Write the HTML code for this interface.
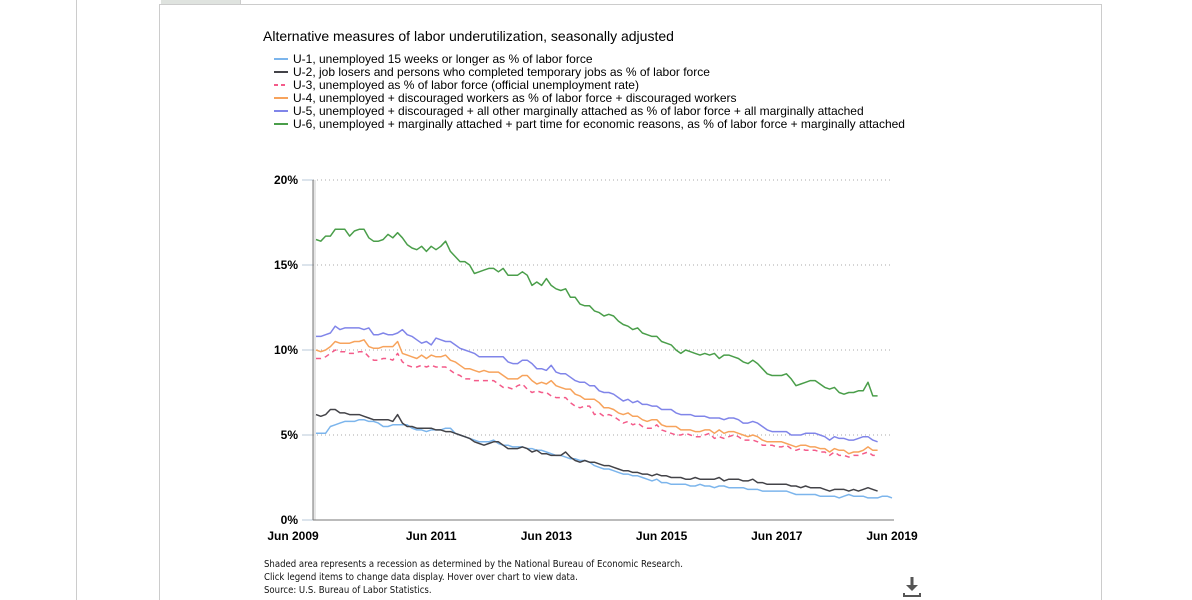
<!DOCTYPE html>
<html style="margin:0;width:1192px;height:600px;overflow:hidden"><head><meta charset="utf-8"><style>
body{margin:0;width:1192px;height:600px;background:#fff;overflow:hidden;position:relative;font-family:"Liberation Sans",Arial,sans-serif}
.abs{position:absolute}
</style></head><body>
<div class="abs" style="left:76px;top:0;width:1px;height:600px;background:#ccc"></div>
<div class="abs" style="left:159px;top:4px;width:943px;height:596px;border-left:1px solid #ccc;border-right:1px solid #ccc;border-top:1px solid #ccc;box-sizing:border-box"></div>
<div class="abs" style="left:161px;top:0;width:79px;height:4px;background:#dfe3df;border-right:1px solid #ccc"></div>
<svg class="abs" style="left:0;top:0" width="1192" height="600">
<g id="g"></g>
</svg>
<script>
const seriesNames=["U-1, unemployed 15 weeks or longer as % of labor force","U-2, job losers and persons who completed temporary jobs as % of labor force","U-3, unemployed as % of labor force (official unemployment rate)","U-4, unemployed + discouraged workers as % of labor force + discouraged workers","U-5, unemployed + discouraged + all other marginally attached as % of labor force + all marginally attached","U-6, unemployed + marginally attached + part time for economic reasons, as % of labor force + marginally attached"];
const seriesColors=["#7cb5ec","#434348","#f45b8a","#f7a35c","#8085e9","#4a9e4a"];
const u1=[5.1,5.1,5.1,5.5,5.6,5.7,5.8, 5.8,5.8,5.9,5.9,5.8,5.8,5.7,5.5,5.5,5.6,5.6,5.6, 5.6,5.4,5.3,5.3,5.2,5.3,5.3,5.3,5.4,5.4,5.1,5.0, 4.9,4.8,4.7,4.6,4.6,4.6,4.7,4.5,4.4,4.4,4.3,4.3, 4.3,4.2,4.2,4.1,4.1,4.0,3.9,3.8,3.8,3.7,3.6,3.6, 3.5,3.5,3.4,3.2,3.1,3.0,3.0,2.9,2.8,2.7,2.7,2.6, 2.6,2.5,2.4,2.3,2.4,2.2,2.2,2.1,2.1,2.1,2.1,2.0, 2.0,2.1,2.0,2.0,1.9,2.0,2.0,1.9,1.9,1.9,1.9,1.8, 1.8,1.8,1.7,1.7,1.7,1.7,1.7,1.7,1.6,1.5,1.5,1.5, 1.5,1.5,1.4,1.4,1.4,1.4,1.3,1.4,1.5,1.4,1.4,1.4, 1.3,1.3,1.3,1.4,1.4,1.3];
const u2=[6.2,6.1,6.2,6.5,6.5,6.3,6.3, 6.2,6.2,6.2,6.1,6.0,5.9,5.9,5.9,5.9,5.8,6.2,5.7, 5.5,5.5,5.4,5.4,5.4,5.4,5.3,5.3,5.2,5.2,5.1,5.0, 4.9,4.8,4.6,4.5,4.4,4.5,4.6,4.6,4.4,4.2,4.2,4.2, 4.3,4.2,4.0,4.1,3.9,3.9,3.8,3.8,3.8,4.0,3.7,3.5, 3.4,3.5,3.4,3.4,3.3,3.2,3.2,3.1,3.0,2.9,2.9,2.8, 2.8,2.7,2.7,2.6,2.7,2.6,2.6,2.5,2.5,2.5,2.4,2.4, 2.5,2.4,2.4,2.4,2.4,2.5,2.3,2.4,2.4,2.4,2.3,2.3, 2.4,2.2,2.2,2.1,2.1,2.1,2.1,2.1,2.0,2.0,1.9,2.0, 1.9,1.9,1.9,1.8,1.7,1.8,1.8,1.8,1.7,1.8,1.7,1.8, 1.9,1.8,1.7];
const u3=[9.5,9.5,9.6,9.8,10.0,9.9,9.9, 9.8,9.8,9.9,9.9,9.6,9.4,9.4,9.5,9.5,9.4,9.8,9.3, 9.1,9.0,9.0,9.1,9.0,9.1,9.0,9.0,9.0,8.8,8.6,8.5, 8.3,8.3,8.2,8.2,8.2,8.2,8.2,8.0,7.8,7.8,7.7,7.9, 8.0,7.7,7.5,7.6,7.5,7.5,7.3,7.2,7.2,7.2,6.9,6.7, 6.6,6.7,6.7,6.2,6.3,6.1,6.2,6.1,5.9,5.7,5.8,5.6, 5.7,5.5,5.4,5.4,5.6,5.3,5.2,5.1,5.0,5.0,5.1,5.0, 4.9,4.9,5.0,5.1,4.8,4.9,4.8,4.9,5.0,4.9,4.7,4.7, 4.7,4.6,4.4,4.4,4.4,4.3,4.3,4.4,4.2,4.1,4.2,4.1, 4.1,4.1,4.0,4.0,3.8,4.0,3.8,3.8,3.7,3.8,3.8,3.9, 4.0,3.8,3.8];
const u4=[10.0,9.9,10.0,10.2,10.5,10.4,10.4, 10.4,10.5,10.5,10.6,10.2,10.1,10.1,10.2,10.2,10.2,10.5,9.8, 9.7,9.6,9.5,9.7,9.5,9.7,9.6,9.6,9.7,9.4,9.3,9.1, 8.9,8.9,8.8,8.7,8.8,8.7,8.7,8.7,8.5,8.3,8.3,8.3, 8.5,8.5,8.2,8.0,8.1,8.0,8.2,7.9,7.8,7.7,7.7,7.4, 7.3,7.1,7.1,7.1,6.9,6.6,6.6,6.5,6.3,6.2,6.3,6.1, 6.1,5.9,5.8,5.9,5.9,5.6,5.5,5.5,5.5,5.3,5.3,5.3, 5.2,5.2,5.3,5.3,5.1,5.3,5.1,5.2,5.2,5.1,5.0,4.9, 5.0,4.9,4.7,4.6,4.6,4.6,4.6,4.5,4.4,4.3,4.4,4.4, 4.3,4.3,4.2,4.2,4.0,4.2,4.1,4.1,3.9,4.0,4.0,4.1, 4.3,4.1,4.1];
const u5=[10.8,10.8,10.9,11.0,11.4,11.2,11.3, 11.3,11.3,11.3,11.2,11.3,10.9,10.9,11.0,10.9,10.9,11.0,11.2, 10.9,10.8,10.6,10.4,10.5,10.3,10.7,10.6,10.5,10.5,10.3,10.1, 10.0,9.9,9.8,9.6,9.6,9.6,9.6,9.6,9.6,9.3,9.2,9.2, 9.4,9.4,9.2,8.9,8.9,8.8,9.1,8.7,8.6,8.6,8.4,8.2, 8.1,8.1,7.9,7.9,7.6,7.5,7.5,7.4,7.2,7.0,7.1,6.9, 7.0,6.8,6.8,6.7,6.7,6.5,6.5,6.5,6.3,6.2,6.2,6.2, 6.1,6.1,6.1,6.0,6.0,6.0,5.9,6.0,6.0,5.9,5.7,5.7, 5.8,5.7,5.5,5.3,5.2,5.2,5.2,5.2,5.0,5.0,5.0,5.1, 5.1,5.1,5.0,4.9,4.7,4.9,4.8,4.8,4.7,4.7,4.8,4.9, 4.9,4.7,4.6];
const u6=[16.5,16.4,16.7,16.7,17.1,17.1,17.1, 16.7,17.0,17.1,17.1,16.6,16.4,16.4,16.5,16.8,16.6,16.9,16.6, 16.2,16.0,15.9,16.1,15.8,16.1,15.9,16.1,16.4,15.8,15.5,15.2, 15.2,15.0,14.5,14.6,14.7,14.8,14.8,14.6,14.8,14.4,14.4,14.4, 14.6,14.4,13.8,14.0,13.8,14.2,13.8,13.6,13.5,13.6,13.1,13.1, 12.7,12.6,12.6,12.3,12.2,12.0,12.1,12.0,11.7,11.5,11.4,11.2, 11.3,11.0,10.9,10.8,10.8,10.5,10.4,10.3,10.0,9.8,10.0,9.9, 9.8,9.7,9.8,9.7,9.8,9.5,9.7,9.7,9.6,9.5,9.3,9.2, 9.4,9.2,8.9,8.6,8.5,8.5,8.5,8.6,8.3,7.9,8.0,8.1, 8.2,8.2,8.0,7.8,7.7,7.8,7.5,7.4,7.5,7.5,7.6,7.6, 8.1,7.3,7.3];
const yTicks=[0,5,10,15,20];
const yTickLabels=["0%","5%","10%","15%","20%"];
const xTickMonths=[0,24,48,72,96,120];
const xTickLabels=["Jun 2009","Jun 2011","Jun 2013","Jun 2015","Jun 2017","Jun 2019"];
const footerLines=["Shaded area represents a recession as determined by the National Bureau of Economic Research.","Click legend items to change data display. Hover over chart to view data.","Source: U.S. Bureau of Labor Statistics."];

const NS="http://www.w3.org/2000/svg";
const g=document.getElementById('g');
const X0=316,MPX=4.8,Y0=520,YPX=17;
const xs=i=>X0+i*MPX, ys=v=>Y0-v*YPX;
function mk(t,a,p){const e=document.createElementNS(NS,t);for(const k in a)e.setAttribute(k,a[k]);(p||g).appendChild(e);return e;}

let t=mk('text',{x:263,y:41,'font-size':14,fill:'#000'});t.textContent="Alternative measures of labor underutilization, seasonally adjusted";



seriesNames.forEach((n,i)=>{
  const y=59+i*13;
  const grp=mk('g',{});
  
  
  mk('line',{x1:274,x2:288,y1:y,y2:y,stroke:seriesColors[i],'stroke-width':2,'stroke-dasharray':i==2?'4,3':'none'},grp);
  const tx=mk('text',{x:293,y:y+4,'font-size':12,fill:'#000'},grp);tx.textContent=n;
});

const sh=mk('rect',{x:313,y:180,width:3,height:340,fill:'#e6e6e6'});



yTicks.forEach((v,i)=>{
  const y=ys(v);
  if(v>0){const gl=mk('line',{x1:313,x2:890,y1:y,y2:y,stroke:'#aaa','stroke-dasharray':'1,3'});
  
  }
  mk('line',{x1:302,x2:313,y1:y,y2:y,stroke:'#b8c8d8'});
  const l=mk('text',{x:298,y:y+4,'font-size':12,'font-weight':'bold','text-anchor':'end',fill:'#000'});l.textContent=yTickLabels[i];
  
  
});
const ya=mk('line',{x1:313,x2:313,y1:180,y2:520,stroke:'#777'});


const xa=mk('line',{x1:313,x2:894,y1:520,y2:520,stroke:'#777'});


xTickMonths.forEach((m,i)=>{
  let cx=xs(m); if(i==0)cx=293;
  const l=mk('text',{x:cx,y:540,'font-size':12,'font-weight':'bold','text-anchor':'middle',fill:'#000'});l.textContent=xTickLabels[i];
  
  
});

[u1,u2,u3,u4,u5,u6].forEach((arr,s)=>{
  const d=arr.map((v,i)=>(i?'L':'M')+xs(i).toFixed(1)+','+ys(v).toFixed(1)).join('');
  const p=mk('path',{d:d,fill:'none',stroke:seriesColors[s],'stroke-width':1.5,'stroke-dasharray':s==2?'5,4':'none','stroke-linejoin':'round'});
  
  
});

footerLines.forEach((f,i)=>{
  const l=mk('text',{x:264,y:567+i*13,'font-size':9.5,fill:'#111','font-family':'"DejaVu Sans Condensed","Liberation Sans Narrow",sans-serif'});l.textContent=f;
  
  
});
const dl=mk('g',{});


mk('rect',{x:910.5,y:577,width:3,height:9,fill:'#555'},dl);
mk('path',{d:'M906,585 L918,585 L912,591 Z',fill:'#555'},dl);
mk('path',{d:'M904,593 L904,596 L920,596 L920,593',fill:'none',stroke:'#555','stroke-width':2},dl);
</script>
</body></html>
